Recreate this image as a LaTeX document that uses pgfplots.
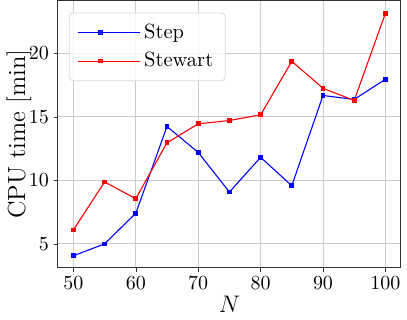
\documentclass[border=0pt]{standalone}
\usepackage{pgfplots}
\pgfplotsset{compat=1.18}

\begin{document}
\begin{tikzpicture}
  \begin{axis}[
    scale only axis,
    width=172pt, height=134pt,
    xmin=47.5, xmax=102.5, ymin=3.11, ymax=24.16,
    xtick={50,60,...,100}, ytick={5,10,15,20},
    xlabel={$N$}, ylabel={CPU time [min]},
    tick label style={font=\fontsize{10}{12}\selectfont},
    every axis x label/.style={at={(axis description cs:0.5,-0.138)}, anchor=center,
      font=\fontsize{12.4}{14}\selectfont},
    every axis y label/.style={at={(axis description cs:-0.113,0.5)}, rotate=90, anchor=center,
      font=\fontsize{12.4}{14}\selectfont},
    xticklabel style={yshift=1pt},
    yticklabel style={xshift=1pt},
    grid=major,
    grid style={gray!40, line width=0.5pt},
    axis line style={black!80, line width=0.5pt},
    tick style={black!80},
    tick align=outside, tick pos=left,
    major tick length=2pt,
    legend style={at={(0.032,0.955)}, anchor=north west,
      draw=black!15, fill=white, fill opacity=0.8, text opacity=1,
      rounded corners=2pt, font=\fontsize{10.3}{12}\selectfont,
      row sep=1.5pt, inner xsep=4pt, inner ysep=3.5pt},
    legend cell align=left,
    legend image code/.code={
      \path (0pt,0pt) -- (31pt,0pt);
      \draw[mark repeat=2,mark phase=2,#1] plot coordinates {(0pt,0pt) (11.5pt,0pt) (23pt,0pt)};
    },
    every axis plot/.append style={line width=0.55pt, mark=square*, mark size=0.9pt},
  ]
  \addplot[color=blue] coordinates {
    (50,4.06)(55,5.00)(60,7.41)(65,14.24)(70,12.20)(75,9.08)
    (80,11.81)(85,9.58)(90,16.68)(95,16.37)(100,17.96)
  };
  \addlegendentry{Step}
  \addplot[color=red] coordinates {
    (50,6.10)(55,9.87)(60,8.56)(65,12.96)(70,14.45)(75,14.71)
    (80,15.16)(85,19.37)(90,17.25)(95,16.29)(100,23.15)
  };
  \addlegendentry{Stewart}
  \end{axis}
\end{tikzpicture}
\end{document}
